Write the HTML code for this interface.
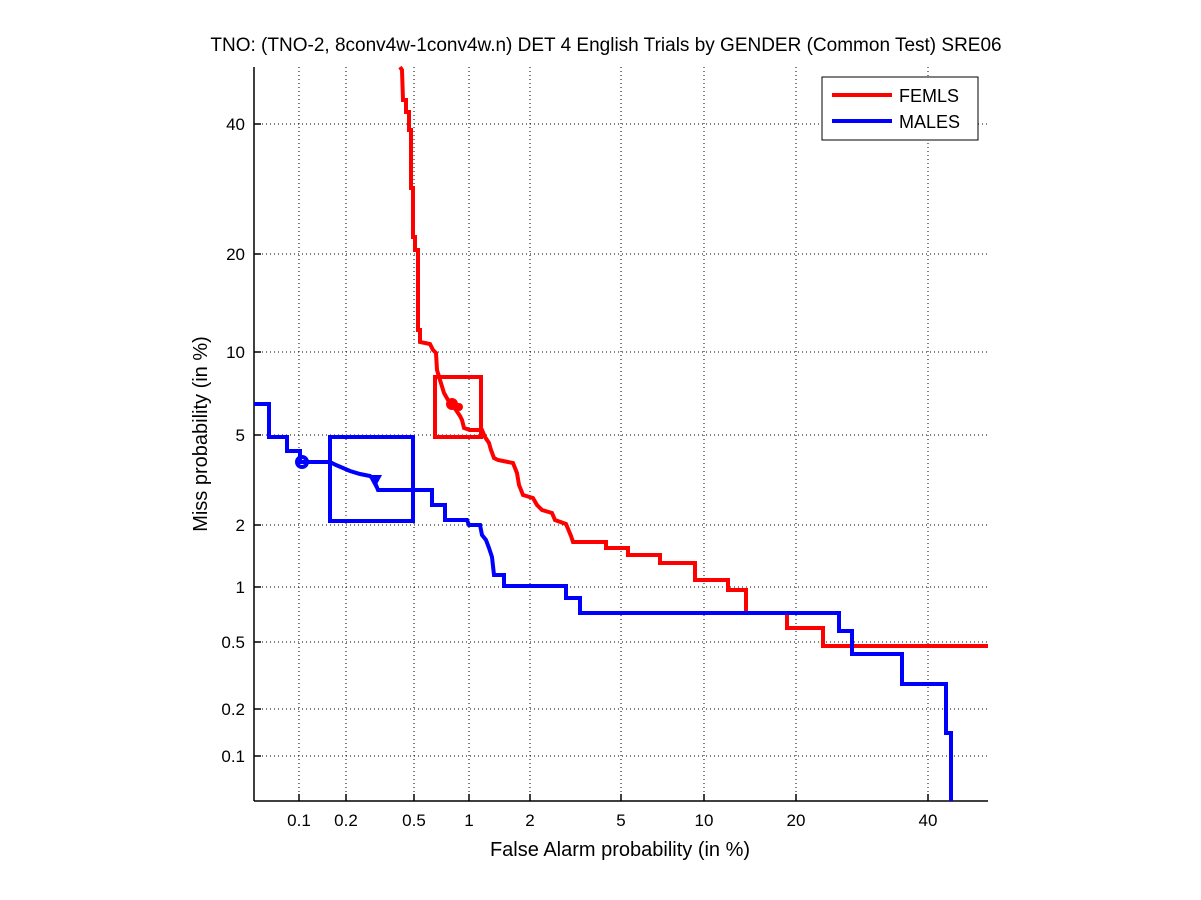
<!DOCTYPE html>
<html><head><style>body{margin:0;background:#fff}svg{display:block}</style></head>
<body>
<svg width="1201" height="900" xmlns="http://www.w3.org/2000/svg" font-family="Liberation Sans, sans-serif">
<rect width="1201" height="900" fill="#fff"/>
<g stroke="#000" stroke-width="1" stroke-dasharray="1,3" fill="none">
<line x1="299" y1="67" x2="299" y2="801"/><line x1="346" y1="67" x2="346" y2="801"/>
<line x1="414" y1="67" x2="414" y2="801"/><line x1="469" y1="67" x2="469" y2="801"/>
<line x1="530" y1="67" x2="530" y2="801"/><line x1="621" y1="67" x2="621" y2="801"/>
<line x1="704" y1="67" x2="704" y2="801"/><line x1="796" y1="67" x2="796" y2="801"/>
<line x1="928" y1="67" x2="928" y2="801"/>
<line x1="254" y1="124" x2="988" y2="124"/><line x1="254" y1="254" x2="988" y2="254"/>
<line x1="254" y1="352" x2="988" y2="352"/><line x1="254" y1="435" x2="988" y2="435"/>
<line x1="254" y1="525" x2="988" y2="525"/><line x1="254" y1="587" x2="988" y2="587"/>
<line x1="254" y1="642" x2="988" y2="642"/><line x1="254" y1="709" x2="988" y2="709"/>
<line x1="254" y1="756" x2="988" y2="756"/>
</g>
<g stroke="#000" stroke-width="1.5">
<line x1="254" y1="67" x2="254" y2="801"/><line x1="254" y1="801" x2="988" y2="801"/>
<path d="M299 801v-7M346 801v-7M414 801v-7M469 801v-7M530 801v-7M621 801v-7M704 801v-7M796 801v-7M928 801v-7M254 124h7M254 254h7M254 352h7M254 435h7M254 525h7M254 587h7M254 642h7M254 709h7M254 756h7"/>
</g>
<g font-size="17" fill="#000" text-anchor="middle">
<text x="299" y="826">0.1</text><text x="346" y="826">0.2</text><text x="414" y="826">0.5</text>
<text x="469" y="826">1</text><text x="530" y="826">2</text><text x="621" y="826">5</text>
<text x="704" y="826">10</text><text x="796" y="826">20</text><text x="928" y="826">40</text>
</g>
<g font-size="17" fill="#000" text-anchor="end">
<text x="245" y="130">40</text><text x="245" y="260">20</text><text x="245" y="358">10</text>
<text x="245" y="441">5</text><text x="245" y="531">2</text><text x="245" y="593">1</text>
<text x="245" y="648">0.5</text><text x="245" y="715">0.2</text><text x="245" y="762">0.1</text>
</g>
<text x="606" y="51" font-size="19" text-anchor="middle">TNO: (TNO-2, 8conv4w-1conv4w.n) DET 4 English Trials by GENDER (Common Test) SRE06</text>
<text x="620" y="856" font-size="20" text-anchor="middle">False Alarm probability (in %)</text>
<text transform="translate(207,434) rotate(-90)" font-size="20" text-anchor="middle">Miss probability (in %)</text>
<g fill="none" stroke-width="4" stroke-linejoin="miter">
<path stroke="#f00" d="M400 67L402 70L403 100H406V112H409V130H411V188H413V237H415V250H418V330H420V342L430 344L433 350L436 353L437 370L440 380L444 393L448 400L456 410L460 416L462 420L464 428L470 430L482 430L485 437L489 443L491 450L494 458L498 460L503 461L513 463L515 468L517 473L519 485L523 495L533 498L537 505L542 510L552 513L555 520L566 524L571 536L573 542H606V548H628V555H660V563H695V580H728V590H746V613H787V628H823V646H988"/>
<rect stroke="#f00" x="435" y="377" width="46" height="60"/>
<path stroke="#00f" d="M254 404H269V437H287V451H300V462H330L336 465L343 468L350 471L360 474L370 476L374 480L378 490H432V505H445V520H467L469 525H480L482 535L486 540L489 548L492 557L494 575H504V586H566V598H580V613H839V631H852V654H902V684H946V733H951V801"/>
<rect stroke="#00f" x="330" y="437" width="83" height="84"/>
</g>
<circle cx="452" cy="404" r="6" fill="#f00"/><circle cx="459" cy="407" r="4" fill="#f00"/>
<circle cx="302" cy="462" r="5" fill="none" stroke="#00f" stroke-width="4"/>
<path d="M368 475L382 475L375 488Z" fill="#00f"/>
<rect x="822" y="77" width="156" height="63" fill="#fff" stroke="#000" stroke-width="1"/>
<line x1="832" y1="95" x2="892" y2="95" stroke="#f00" stroke-width="4"/>
<line x1="832" y1="121" x2="892" y2="121" stroke="#00f" stroke-width="4"/>
<text x="899" y="102" font-size="18">FEMLS</text>
<text x="899" y="128" font-size="18">MALES</text>
</svg>
</body></html>
